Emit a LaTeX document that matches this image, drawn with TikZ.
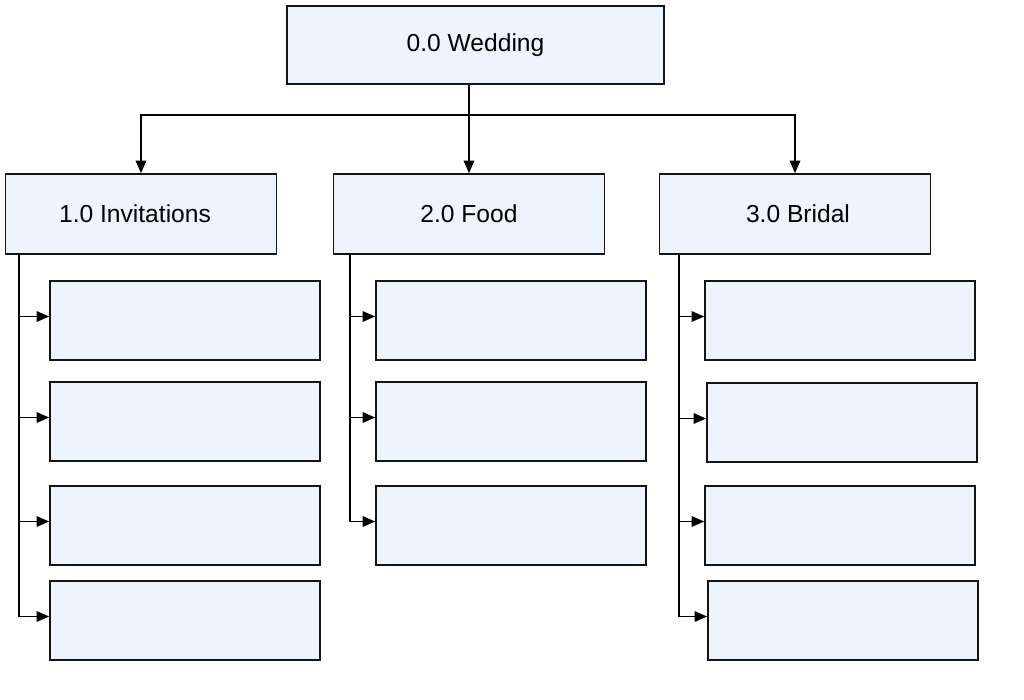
\documentclass[tikz,border=0pt]{standalone}
\usepackage{fontspec}
\setmainfont{Liberation Sans}
\usetikzlibrary{arrows.meta}
\definecolor{boxfill}{RGB}{238,244,253}
\definecolor{boxline}{RGB}{20,20,20}
\tikzset{
	wbsbox/.style={shape=rectangle, draw=boxline, fill=boxfill, line width=1.1pt, inner sep=0pt, font=\fontsize{17.5}{20}\selectfont},
	topbox/.style={wbsbox, minimum width=9.425cm, minimum height=1.95cm},
	levelbox/.style={wbsbox, minimum width=6.775cm, minimum height=2cm},
	taskbox/.style={wbsbox, minimum width=6.75cm, minimum height=1.975cm},
	wire/.style={line width=1.2pt, -{Triangle[length=9pt, width=7.5pt]}},
}

\begin{document}
\begin{tikzpicture}[x=0.025cm, y=-0.025cm]
	\useasboundingbox (0, 0) rectangle (1024, 699);
	% Boxes:
	\node[topbox] (wed) at (475.5, 45){0.0 Wedding};
	\node[levelbox] (inv) at (141, 214){\hspace*{-0.3cm}1.0 Invitations};
	\node[levelbox] (food) at (469, 214){2.0 Food};
	\node[levelbox] (bri) at (795, 214){\hspace*{0.15cm}3.0 Bridal};
	\node[taskbox] (inv1) at (185, 320.5){};
	\node[taskbox] (inv2) at (185, 421.5){};
	\node[taskbox] (inv3) at (185, 525.5){};
	\node[taskbox] (inv4) at (185, 620.5){};
	\node[taskbox] (food1) at (511, 320.5){};
	\node[taskbox] (food2) at (511, 421.5){};
	\node[taskbox] (food3) at (511, 525.5){};
	\node[taskbox] (bri1) at (840, 320.5){};
	\node[taskbox] (bri2) at (842, 422.5){};
	\node[taskbox] (bri3) at (840, 525.5){};
	\node[taskbox] (bri4) at (843, 620.5){};
	% Wires:
	\coordinate (bar) at (469, 115);
	\draw[wire] (food.north |- wed.south) -- (food.north);
	\draw[wire] (bar) -| (inv.north);
	\draw[wire] (bar) -| (bri.north);
	\coordinate (invspine) at (19, 254);
	\coordinate (foodspine) at (350, 254);
	\coordinate (brispine) at (679, 254);
	\foreach \i in {1,...,4}
		\draw[wire] (invspine) |- ([yshift=0.1cm]inv\i.west);
	\foreach \i in {1,...,3}
		\draw[wire] (foodspine) |- ([yshift=0.1cm]food\i.west);
	\foreach \i in {1,...,4}
		\draw[wire] (brispine) |- ([yshift=0.1cm]bri\i.west);
\end{tikzpicture}
\end{document}
